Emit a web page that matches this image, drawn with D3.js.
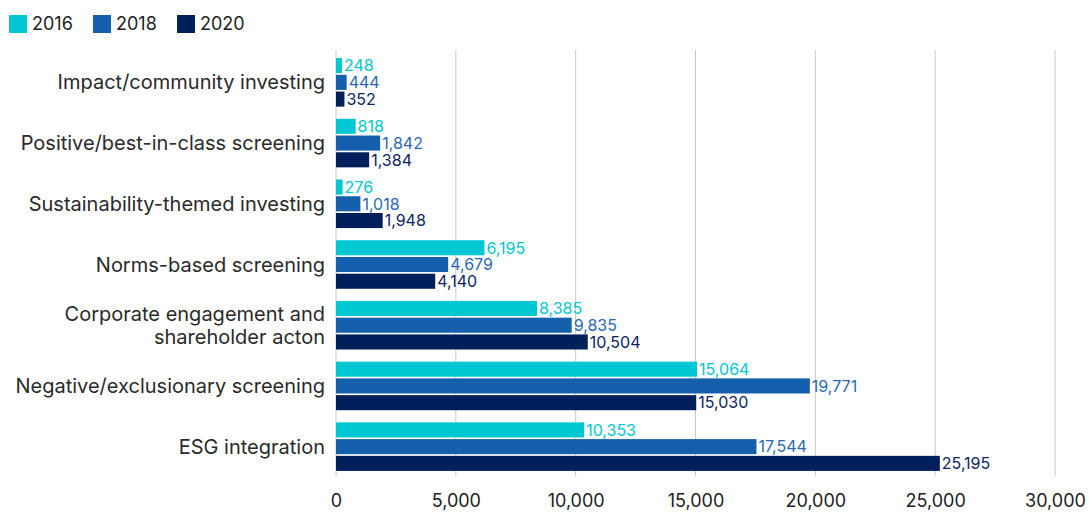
<!DOCTYPE html>
<html>
<head>
<meta charset="utf-8">
<script src="https://cdn.jsdelivr.net/npm/d3@7"></script>
<style>
  body { margin: 0; background: #fff; }
  svg text { font-family: Inter, "Noto Sans", sans-serif; }
</style>
</head>
<body>
<svg id="chart"></svg>
<script>
var categories = [
    "Impact/community investing",
    "Positive/best-in-class screening",
    "Sustainability-themed investing",
    "Norms-based screening",
    "Corporate engagement and\nshareholder acton",
    "Negative/exclusionary screening",
    "ESG integration"
];
var years = ["2016", "2018", "2020"];
var values2016 = [248, 818, 276, 6195, 8385, 15064, 10353];
var values2018 = [444, 1842, 1018, 4679, 9835, 19771, 17544];
var values2020 = [352, 1384, 1948, 4140, 10504, 15030, 25195];
var xTicks = [0, 5000, 10000, 15000, 20000, 25000, 30000];

var colors = { "2016": "#00c8d3", "2018": "#155fad", "2020": "#00205b" };
var labelColors = { "2016": "#00c8d3", "2018": "#2a68b5", "2020": "#0b2560" };

var width = 1089, height = 514;
var svg = d3.select("#chart").attr("width", width).attr("height", height);

var xScale = d3.scaleLinear().domain([0, 30000]).range([336, 1055]);
var yScale = d3.scaleBand().domain(categories).range([52, 477]).paddingInner(0.2).paddingOuter(0.1);
var subScale = d3.scaleBand().domain(years).range([0, yScale.bandwidth()]).paddingInner(0.1);

var seriesData = {"2016": values2016, "2018": values2018, "2020": values2020};

// gridlines
svg.append("g")
    .selectAll("line")
    .data(xTicks)
    .enter().append("line")
    .attr("x1", function (d) { return xScale(d); })
    .attr("x2", function (d) { return xScale(d); })
    .attr("y1", 50)
    .attr("y2", 476)
    .attr("stroke", "#c8c8c8")
    .attr("stroke-width", 1);

// x axis labels
var xAxis = d3.axisBottom(xScale).tickValues(xTicks).tickSize(0).tickPadding(0)
    .tickFormat(d3.format(","));
var xg = svg.append("g").attr("transform", "translate(0,493)").call(xAxis);
xg.select(".domain").remove();
xg.selectAll("text")
    .attr("font-size", 18)
    .attr("fill", "#222")
    .attr("dy", "0.8em")
    .style("font-family", "Inter, 'Noto Sans', sans-serif");

// category labels
var catG = svg.append("g");
categories.forEach(function (c) {
    var lines = c.split("\n");
    var cy = yScale(c) + yScale.bandwidth() / 2;
    var t = catG.append("text")
        .attr("x", 325)
        .attr("text-anchor", "end")
        .attr("font-size", 20)
        .attr("fill", "#2a2a2a");
    lines.forEach(function (l, i) {
        t.append("tspan")
            .attr("x", 325)
            .attr("y", cy + (i - (lines.length - 1) / 2) * 23)
            .attr("dy", "0.35em")
            .text(l);
    });
});

// bars
years.forEach(function (yr) {
    var g = svg.append("g");
    g.selectAll("rect")
        .data(categories)
        .enter().append("rect")
        .attr("x", xScale(0))
        .attr("y", function (d) { return yScale(d) + subScale(yr); })
        .attr("width", function (d, i) { return xScale(seriesData[yr][i]) - xScale(0); })
        .attr("height", subScale.bandwidth())
        .attr("fill", colors[yr]);
    g.selectAll("text")
        .data(categories)
        .enter().append("text")
        .attr("x", function (d, i) { return xScale(seriesData[yr][i]) + 2; })
        .attr("y", function (d) { return yScale(d) + subScale(yr) + subScale.bandwidth() / 2; })
        .attr("dy", "0.36em")
        .attr("font-size", 16)
        .attr("fill", labelColors[yr])
        .text(function (d, i) { return d3.format(",")(seriesData[yr][i]); });
});

// legend
var legendX = [9, 93, 177];
var legend = svg.append("g");
years.forEach(function (yr, i) {
    legend.append("rect")
        .attr("x", legendX[i])
        .attr("y", 15)
        .attr("width", 18)
        .attr("height", 18)
        .attr("fill", colors[yr]);
    legend.append("text")
        .attr("x", legendX[i] + 23)
        .attr("y", 24)
        .attr("dy", "0.35em")
        .attr("font-size", 18)
        .attr("fill", "#222")
        .text(yr);
});
</script>
</body>
</html>
